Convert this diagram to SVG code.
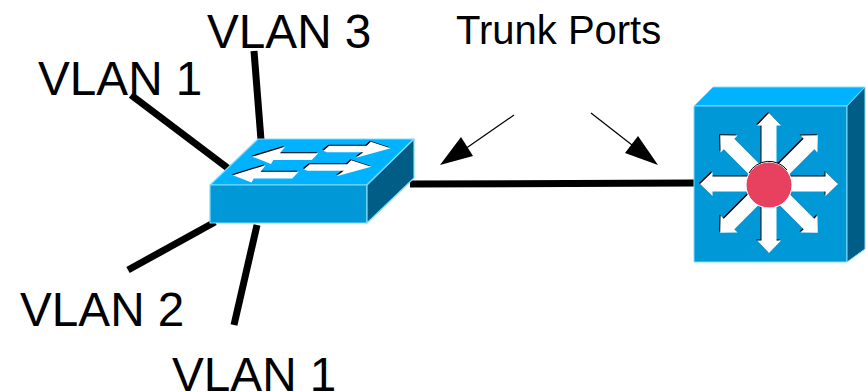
<svg xmlns="http://www.w3.org/2000/svg" width="866" height="392" viewBox="0 0 866 392">
<style>
.t{font-family:"Liberation Sans",Arial,sans-serif;font-size:47.7px;fill:#000}
.w{stroke:#000;stroke-width:7;fill:none}
.p{stroke:#000;stroke-width:1.2;fill:none}
.h{fill:#000}
.e{stroke:#7fdcff;stroke-width:1.2;stroke-linejoin:round}
</style>
<defs>
<polygon id="a" points="769,115 781,127.500 776.500,127.500 776.500,184 761.500,184 761.500,127.500 757,127.500"/>
<g id="sw">
<polygon points="252.3,156.7 285,146.7 280,153.3 318.3,153.3 311.7,160 273.3,160 271,164"/>
<polygon points="323.3,150.700 329.3,145.700 366.7,145.700 370.700,141.700 390.700,148.300 356,157.700 363.300,152.300 326.700,152.300"/>
</g>
<g id="st">
<use href="#a" transform="translate(0,-2)"/><use href="#a" transform="rotate(45 769 184)"/><use href="#a" transform="rotate(90 769 184)"/><use href="#a" transform="rotate(135 769 184)"/><use href="#a" transform="rotate(180 769 184)"/><use href="#a" transform="rotate(225 769 184)"/><use href="#a" transform="rotate(270 769 184)"/><use href="#a" transform="rotate(315 769 184)"/>
</g>
</defs>
<g id="connectors">
<line class="w" x1="131" y1="95" x2="229" y2="169"/>
<line class="w" x1="254" y1="51" x2="261" y2="140"/>
<line class="w" x1="128" y1="270" x2="215" y2="222"/>
<line class="w" x1="234" y1="325" x2="257" y2="225"/>
<line class="w" x1="410" y1="184" x2="694" y2="183"/>
<line class="p" x1="514" y1="115" x2="465" y2="149"/>
<polygon class="h" points="440,165 461,137 473,156"/>
<line class="p" x1="591" y1="113" x2="632" y2="145"/>
<polygon class="h" points="658,165 638,136 625,153"/>
</g>
<g id="switch">
<polygon class="e" fill="#00b2ff" points="258,139 414,139 367,185 210,185"/>
<polygon class="e" fill="#0098d6" points="210,185 367,185 367,223 210,223"/>
<polygon class="e" fill="#005d85" points="367,185 414,139 414,178 367,223"/>
<use href="#sw" fill="#000" transform="translate(-1,-1)"/>
<use href="#sw" fill="#fff"/>
<use href="#sw" fill="#000" transform="translate(-20.5,17.5)"/>
<use href="#sw" fill="#fff" transform="translate(-19.5,18.5)"/>
</g>
<g id="router">
<polygon fill="#00b2ff" stroke="#7fdcff" points="713,87 865,87 847,106 694,106"/>
<polygon fill="#0098d6" stroke="#7fdcff" points="694,106 847,106 847,262 694,262"/>
<polygon fill="#005d85" stroke="#7fdcff" points="847,106 865,87 865,249 847,262"/>
<use href="#st" fill="#000" transform="translate(-1,-1)"/>
<use href="#st" fill="#fff"/>
<circle cx="769" cy="185" r="23" fill="#e8405f" stroke="#fff" stroke-width="1"/>
<path d="M749 173A23 23 0 0 1 787 170" fill="none" stroke="#000" stroke-width="1"/>
</g>
<g id="labels">
<text class="t" x="207" y="48">VLAN 3</text>
<text class="t" x="38" y="95">VLAN 1</text>
<text class="t" x="20" y="326">VLAN 2</text>
<text class="t" x="172" y="391">VLAN 1</text>
<text class="t" x="456" y="44" style="font-size:40px">Trunk Ports</text>
</g>
</svg>
